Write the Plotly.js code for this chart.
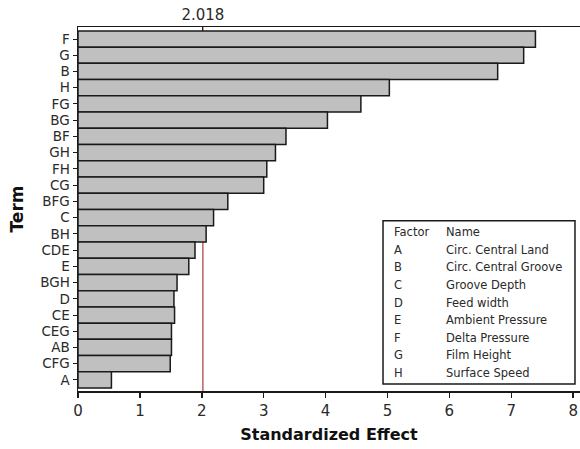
<!DOCTYPE html>
<html>
<head>
<meta charset="utf-8">
<script src="https://cdn.plot.ly/plotly-3.0.1.min.js"></script>
<style>
html,body{margin:0;padding:0;background:#fff;}
#chart{width:580px;height:449px;}
</style>
</head>
<body>
<div id="chart"></div>
<script>
// Terms (top to bottom) and standardized effects
const terms = ["F","G","B","H","FG","BG","BF","GH","FH","CG","BFG","C","BH","CDE","E","BGH","D","CE","CEG","AB","CFG","A"];
const effects = [7.39,7.20,6.78,5.03,4.57,4.03,3.36,3.19,3.05,3.00,2.42,2.19,2.07,1.89,1.79,1.60,1.55,1.56,1.51,1.51,1.49,0.54];
const criticalValue = 2.018;
const criticalLabel = "2.018";
// Legend table
const factorLetters = ["A","B","C","D","E","F","G","H"];
const factorNames = ["Circ. Central Land","Circ. Central Groove","Groove Depth","Feed width","Ambient Pressure","Delta Pressure","Film Height","Surface Speed"];
const xTicks = [0,1,2,3,4,5,6,7,8];

const FONT = "DejaVu Sans, Verdana, sans-serif";
const TXT = "#2a2a2a";

const trace = {
  type: "bar",
  orientation: "h",
  x: effects,
  y: terms,
  width: 1,
  marker: {color: "#c0c0c0", line: {color: "#1a1a1a", width: 1.5}},
  hoverinfo: "x+y"
};
// invisible trace to anchor the top axis
const topTrace = {
  type: "scatter", mode: "markers",
  x: [criticalValue], y: [terms[0]],
  xaxis: "x2", marker: {opacity: 0}, hoverinfo: "skip", showlegend: false
};

// Legend box annotations
const annotations = [];
const rowTop = 0.436, rowStep = 17.6/364;
const col1 = 0.6255, col2 = 0.729;
annotations.push({xref:"paper", yref:"paper", x:col1, y:rowTop, xanchor:"left", yanchor:"middle", text:"Factor", showarrow:false, font:{family:FONT,size:11.5,color:TXT}});
annotations.push({xref:"paper", yref:"paper", x:col2, y:rowTop, xanchor:"left", yanchor:"middle", text:"Name", showarrow:false, font:{family:FONT,size:11.5,color:TXT}});
factorLetters.forEach((f,i)=>{
  const yy = rowTop - (i+1)*rowStep;
  annotations.push({xref:"paper", yref:"paper", x:col1, y:yy, xanchor:"left", yanchor:"middle", text:f, showarrow:false, font:{family:FONT,size:11.5,color:TXT}});
  annotations.push({xref:"paper", yref:"paper", x:col2, y:yy, xanchor:"left", yanchor:"middle", text:factorNames[i], showarrow:false, font:{family:FONT,size:11.5,color:TXT}});
});

const layout = {
  width: 580, height: 449,
  margin: {l: 78, r: 0, t: 27, b: 58, pad: 0},
  paper_bgcolor: "#fff", plot_bgcolor: "#fff",
  showlegend: false,
  bargap: 0,
  font: {family: FONT, color: TXT},
  xaxis: {
    range: [0, 8.11],
    tickvals: xTicks,
    ticks: "outside", ticklen: 5, tickwidth: 1.5, tickcolor: "#1a1a1a",
    showline: true, linecolor: "#1a1a1a", linewidth: 1.5,
    showgrid: false, zeroline: false,
    tickfont: {family: FONT, size: 15, color: TXT},
    title: {text: "<b>Standardized Effect</b>", font: {family: FONT, size: 16, color: "#111"}, standoff: 10}
  },
  xaxis2: {
    overlaying: "x", matches: "x", side: "top",
    tickvals: [criticalValue], ticktext: [criticalLabel],
    ticks: "inside", ticklen: 4, tickcolor: "#1a1a1a",
    showline: true, linecolor: "#1a1a1a", linewidth: 1.5,
    showgrid: false, zeroline: false,
    tickfont: {family: FONT, size: 15, color: TXT}
  },
  yaxis: {
    type: "category",
    categoryorder: "array", categoryarray: terms,
    range: [21.68, -0.74],
    ticks: "outside", ticklen: 4, tickcolor: "#1a1a1a",
    showline: true, linecolor: "#1a1a1a", linewidth: 1.5,
    showgrid: false, zeroline: false,
    tickfont: {family: FONT, size: 13.5, color: TXT},
    title: {text: "<b>Term</b>", font: {family: FONT, size: 17, color: "#111"}, standoff: 12}
  },
  shapes: [
    {type: "line", xref: "x", yref: "paper", x0: criticalValue, x1: criticalValue, y0: 0, y1: 1, layer: "below", line: {color: "#a03a3a", width: 1.2}},
    {type: "rect", xref: "paper", yref: "paper", x0: 0.6076, x1: 0.99, y0: 0.0192, y1: 0.468, line: {color: "#1a1a1a", width: 1.5}, fillcolor: "rgba(255,255,255,1)", layer: "above"}
  ],
  annotations: annotations
};

Plotly.newPlot("chart", [trace, topTrace], layout, {displayModeBar: false, staticPlot: true});
</script>
</body>
</html>
